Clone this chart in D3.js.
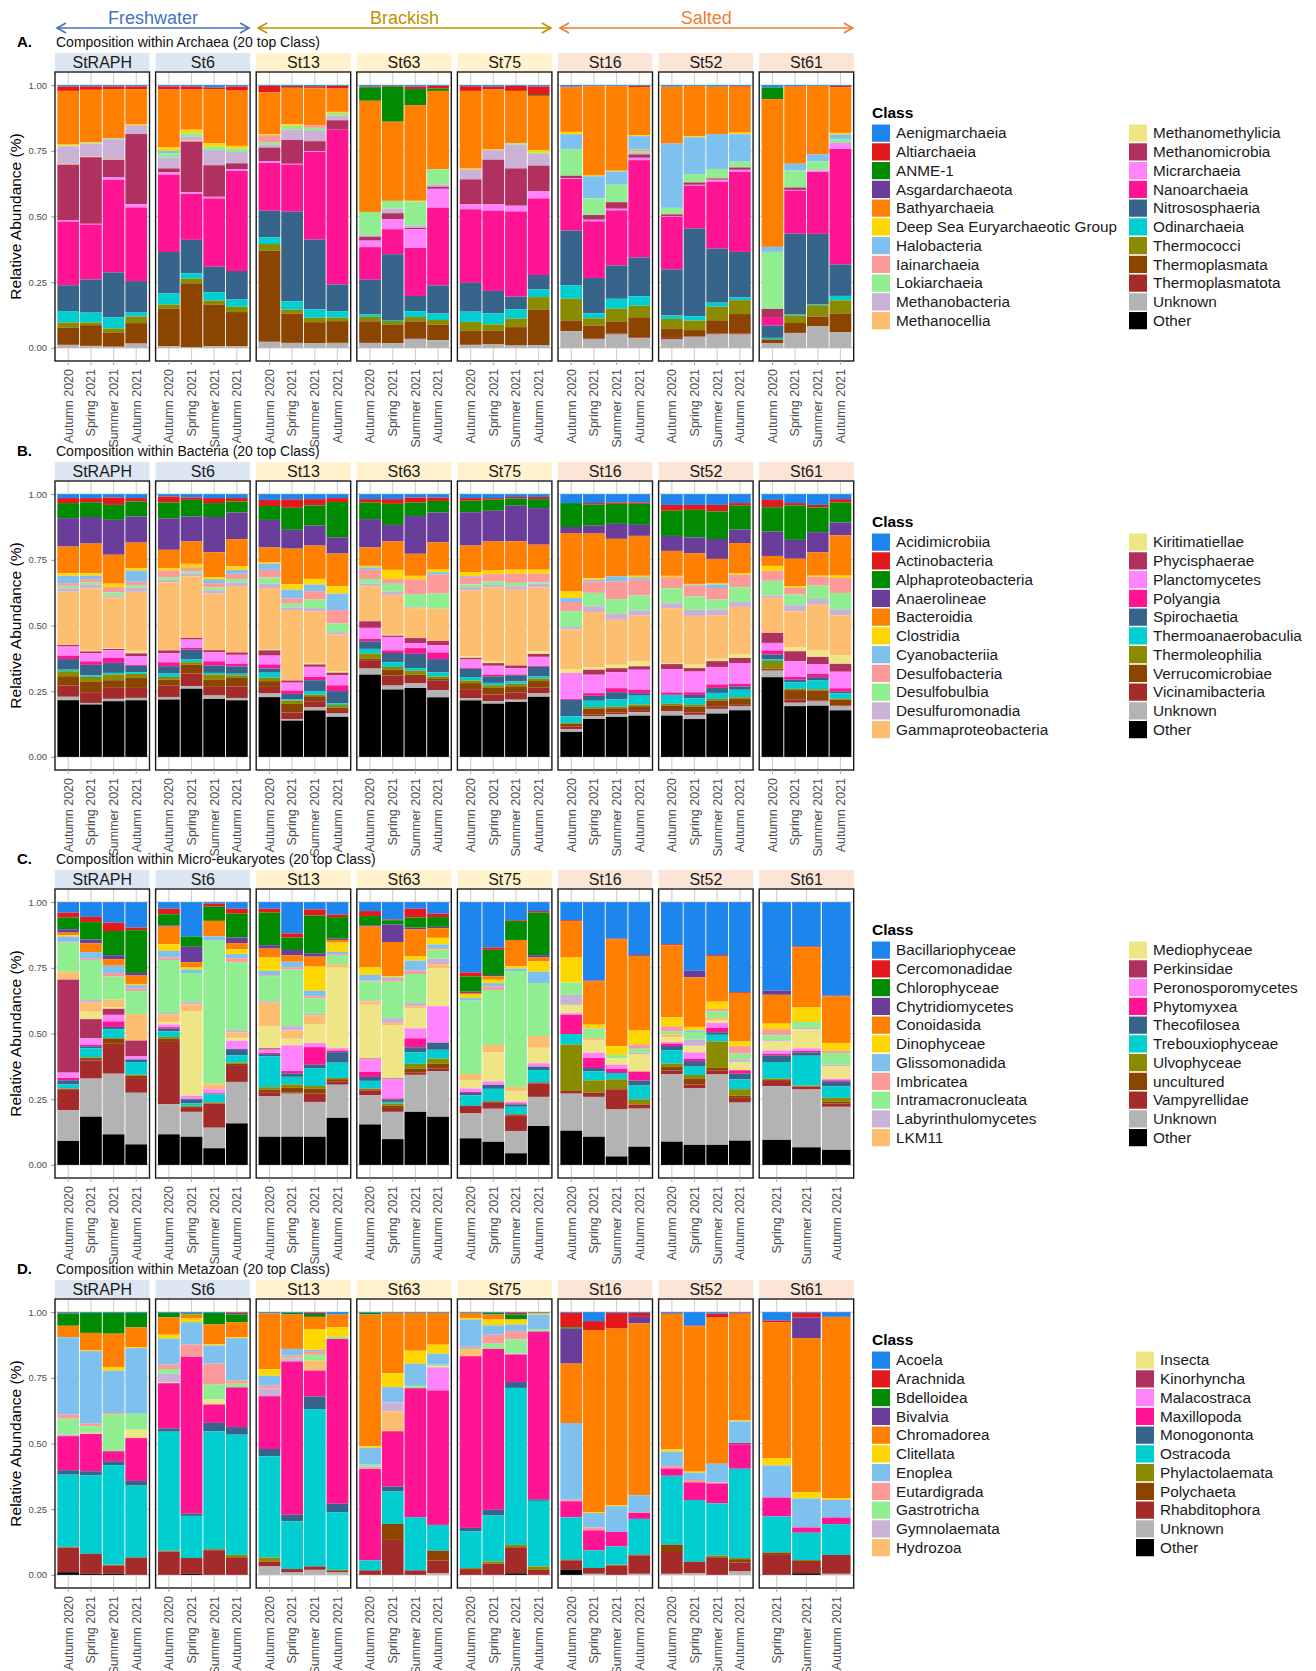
<!DOCTYPE html>
<html>
<head>
<meta charset="utf-8">
<script src="https://cdn.jsdelivr.net/npm/d3@7"></script>
<style>
  body { margin: 0; background: #fff; }
  svg { display: block; font-family: "Liberation Sans", Arial, sans-serif; }
</style>
</head>
<body>
<svg id="chart" width="1316" height="1671"></svg>
<script>
// ---- data (relative abundance in %, read top-of-bar class first) ----
const sites = ["StRAPH", "St6", "St13", "St63", "St75", "St16", "St52", "St61"];
const seasons = ["Autumn 2020", "Spring 2021", "Summer 2021", "Autumn 2021"];
const seasonsSt61Euk = ["Spring 2021", "Summer 2021", "Autumn 2021"];
const regions = ["Freshwater", "Brackish", "Salted"];
const siteRegion = ["Freshwater", "Freshwater", "Brackish", "Brackish", "Brackish", "Salted", "Salted", "Salted"];
const yTicks = [0, 0.25, 0.5, 0.75, 1];

const palette = ["#1C86EE", "#E31A1C", "#008B00", "#6A3D9A", "#FF7F00", "#FFD700", "#7EC0EE",
  "#FB9A99", "#90EE90", "#CAB2D6", "#FDBF6F", "#EEE685", "#B03060", "#FF83FA", "#FF1493",
  "#36648B", "#00CED1", "#8B8B00", "#8B4500", "#A52A2A", "#B3B3B3", "#000000"];

const archaeaClasses = ["Aenigmarchaeia", "Altiarchaeia", "ANME-1", "Asgardarchaeota", "Bathyarchaeia",
  "Deep Sea Euryarchaeotic Group", "Halobacteria", "Iainarchaeia", "Lokiarchaeia", "Methanobacteria",
  "Methanocellia", "Methanomethylicia", "Methanomicrobia", "Micrarchaeia", "Nanoarchaeia",
  "Nitrososphaeria", "Odinarchaeia", "Thermococci", "Thermoplasmata", "Thermoplasmatota", "Unknown", "Other"];
const bacteriaClasses = ["Acidimicrobiia", "Actinobacteria", "Alphaproteobacteria", "Anaerolineae",
  "Bacteroidia", "Clostridia", "Cyanobacteriia", "Desulfobacteria", "Desulfobulbia", "Desulfuromonadia",
  "Gammaproteobacteria", "Kiritimatiellae", "Phycisphaerae", "Planctomycetes", "Polyangia", "Spirochaetia",
  "Thermoanaerobaculia", "Thermoleophilia", "Verrucomicrobiae", "Vicinamibacteria", "Unknown", "Other"];
const eukClasses = ["Bacillariophyceae", "Cercomonadidae", "Chlorophyceae", "Chytridiomycetes", "Conoidasida",
  "Dinophyceae", "Glissomonadida", "Imbricatea", "Intramacronucleata", "Labyrinthulomycetes", "LKM11",
  "Mediophyceae", "Perkinsidae", "Peronosporomycetes", "Phytomyxea", "Thecofilosea", "Trebouxiophyceae",
  "Ulvophyceae", "uncultured", "Vampyrellidae", "Unknown", "Other"];
const metazoanClasses = ["Acoela", "Arachnida", "Bdelloidea", "Bivalvia", "Chromadorea", "Clitellata", "Enoplea",
  "Eutardigrada", "Gastrotricha", "Gymnolaemata", "Hydrozoa", "Insecta", "Kinorhyncha", "Malacostraca",
  "Maxillopoda", "Monogononta", "Ostracoda", "Phylactolaemata", "Polychaeta", "Rhabditophora", "Unknown", "Other"];

const archaeaValues = [
  // StRAPH
  [0.5,1.7,0,0,20.6,0.4,0,0,0.3,6.7,0.3,0,21.2,0.6,24.4,9.9,4.4,1.9,6.6,0.2,1,0],
  [0.5,1.3,0,0,20,0.3,0,0,0.2,5,0.3,0,25.5,0.3,21,12.7,3.8,1,7.9,0.2,0.6,0],
  [0.5,1,0,0,18.8,0,0,0,0.3,7.6,0.3,0,6.7,0.9,35.3,17.2,4.2,1.5,5.3,0.2,0.4,0],
  [0.5,1,0,0,13.3,0.4,0,0,0,3.4,0,0,26.7,1.2,28,12,1.5,2.5,7.6,0.2,1.6,0],
  // St6
  [0.5,1.2,0,0,22,1.3,0.9,0,1.6,4.2,0,0,1.5,0.9,29.4,15.8,4.2,1.5,14.4,0,0.6,0],
  [0.5,1.2,0,0,15.2,1.3,0,0,1.2,1.6,0.4,0,19.3,0.6,17.4,12.7,2,1.8,24.3,0,0.2,0],
  [0.9,0.6,0,0,20.6,1.3,0,0,1.4,5.7,0,0,12,0.6,26,9.7,3.2,1.5,15.9,0,0.6,0],
  [0.5,1.6,0,0,21,1,0,0,1.3,4.3,0,0,2.3,0.6,38,10.8,2.8,2,13,0,0.6,0],
  // St13
  [0.3,2.5,0,0,15.9,0.4,0,2.8,0.9,1,0,0,5.3,0.6,18.2,10.2,2.5,2.5,34.7,0.2,2.2,0],
  [0.3,0.6,0.2,0,13.9,0.6,0,0,1.4,4,0,0,9.1,0.3,18,34.3,3.2,1.5,11.2,0,1.9,0],
  [0.4,0.6,0.2,0,14.2,0,0,0.9,0.9,4.2,0,0,3.8,0.3,33.4,26.7,3.2,1.7,8.1,0,1.7,0],
  [0.3,1,0,0,8.9,0.4,0,0,1,1.8,0,0,3.6,0,59,10.2,2.5,1.3,8.3,0,1.9,0],
  // St63
  [0.5,0.3,5.2,0,42.6,0,0,0,8.9,0.6,0,0,1.5,2.5,12.5,13.3,0.9,1.7,8.3,0,1.9,0],
  [0.3,0.3,13.3,0,30.1,0,0,0,2.9,1.8,0,0,2.3,3.8,9.5,25,0.4,1.3,7.2,0,1.7,0],
  [0.6,0.9,6.1,0,36.5,0.3,0,0,9.1,1,0,0,0.5,7.1,18.3,5.8,2.2,1.7,6.4,0.3,3.4,0],
  [0.3,1,0.9,0,29.9,0,0,0,5.7,0.9,0,0,0.8,7.2,29.6,10.7,2.5,1.7,6,0,2.9,0],
  // St75
  [0.4,1.8,0,0,29.6,0.3,0,0,0,3.8,0,0,9.5,1.9,28,11,3.9,3.4,5.3,0.2,1,0],
  [0.6,0.9,0,0,22.9,0.3,0,0,0,3.6,0,0,16.8,2.5,30.5,8.5,4.2,2.3,5.3,0,1.3,0],
  [0.3,1.9,0,0,19.9,0,0,0,0.6,9,0,0,14.2,2.2,32.4,4.8,3.6,3.2,7,0,0.9,0],
  [0.5,3.3,0.3,0,20.7,0.9,0,0,0.5,4.4,0,0,9.8,2.7,29.1,5.5,2.9,4.7,13.6,0,1,0],
  // St16
  [0.6,0.3,0,0,17,0.9,5.7,0,10.2,0,0,0,0.9,0.3,19.8,21,5.1,8.3,4.1,0,6.4,0],
  [0.3,0.2,0,0,34,0.3,8.4,0,6.4,0,0,0,1.8,0.6,21.6,13.5,1.9,2.8,4.8,0.3,3.4,0],
  [0.3,0.2,0,0,32.1,0.3,5,0,6.7,0,0,0,2.5,0.6,21,12.7,3.8,4.8,4.7,0.3,5.1,0],
  [0.3,0.4,0,0,18.4,0.4,5.1,0.6,0.7,0.6,0,0,1.3,0.9,37.2,14.9,3.6,4.4,7.6,0.3,3.8,0],
  // St52
  [0.6,0,0,0,21.6,0,24.4,0,2.5,0,0,0,0.6,0.3,20,17.5,1.3,3.8,3.4,0.6,3.2,0],
  [0.3,0,0,0,19.3,0.3,14.1,0,3.2,0,0,0,0.9,0.3,16.4,33.5,1.7,3.6,2.4,0.2,4.2,0],
  [0.6,0,0,0,18,0,13.3,0,3.6,0,0,0,0.5,0.8,25.4,20.6,1.5,5.2,5.1,0.3,5.1,0],
  [0.3,0.3,0,0,17.5,0.6,10.5,0,2.2,0,0,0,0.9,0.8,30.5,17.4,1,5.3,7.4,0.4,5.1,0],
  // St61
  [0.9,0,4.4,0,56.2,0,1.9,0,21.7,0,0,0,3.4,0,2.9,4.7,0.6,0,1.5,0,1.7,0],
  [0.4,0.2,0,0,29.4,0,2.5,0,6.6,0,0,0,0.9,0.3,16.4,30.9,0.3,2.9,3.8,0,5.7,0],
  [0.3,0,0,0,26,0,2.7,0,3.4,0,0,0,0,0.6,23.5,26.7,0.4,4.3,3.6,0,8.3,0],
  [0.3,0.5,0,0,17.4,0.6,1.9,0,1.3,0,0,0,0,2.3,44,12,1.7,5,7.1,0,6,0]
];

const bacteriaValues = [
  // StRAPH
  [1.5,1.9,5.7,10.8,10.1,1,2.8,1,0.9,1.3,19.9,0.3,0.6,3.5,1.3,4,0.6,1.9,3.5,4.3,1.3,21.5],
  [1.5,1.6,5.6,10.1,11.2,1,1.3,1.3,0.9,1.3,23.7,0.3,0.6,3.2,1.3,4,0.6,1.9,3.9,4.1,0.6,19.9],
  [1.3,2.8,5.7,13.3,11,1.3,0,2,1.3,0.6,19.4,0.3,0.5,2.9,1.9,3.8,0.6,2.2,2.9,4.2,0.9,21.2],
  [1.5,1.3,5.7,9.9,9.8,0.9,4.2,1.3,0.9,1.6,22.4,1,1,3.4,0.3,2.5,0.6,1.5,3.8,3.8,0.9,21.5],
  // St6
  [0.9,2.3,6,12,7,0.9,0,2.5,1,1,25.9,0,1,3.5,1.5,2.8,1.3,1,2.3,4.3,1,21.8],
  [1.3,0.9,6.3,9.5,8.5,1.3,0,1.6,0.9,1,23.4,0,0.6,3.2,0.6,3.8,1,0.9,3.4,4.8,1,25.9],
  [1.5,1.9,5.3,13.4,9.4,0.8,1.5,1.6,1.1,1.3,21.5,0,0.8,3.4,1.6,2.8,0.6,1.9,2.8,3.3,1.3,22],
  [1.5,1.3,4.2,10.1,10.4,1.3,1.5,2,1.3,1.3,25.3,0,0.9,3.4,1,2.8,0.6,1,3.2,4.4,0.9,21.5],
  // St13
  [2.2,2.3,5.3,10.5,5.7,0.5,2.3,2.9,2.4,1.6,23.2,0.5,2,3.4,1.5,1.6,1.9,1.3,2.2,2.5,1.4,22.7],
  [2,3.2,8.4,7.2,13.6,2,3.4,1.9,1.5,1,26.9,0,0.8,3,1.3,2,0.5,1.3,3.3,2.5,0.6,13.8],
  [1.9,2.4,7.7,7.6,12.7,2.2,2.5,3.2,3.2,1.3,19.6,0.6,0.9,3.8,1.3,4.2,1.3,0.6,1.9,2.2,1.3,17.7],
  [1.5,1.5,13.4,6.2,12.4,2.8,6.3,5.1,3.3,0.9,13.9,0.6,1,3.8,2.2,4.7,0.6,1,0.9,1.3,1.3,15.2],
  // St63
  [1.9,1.3,6.3,10.8,7,0.6,0.9,3.5,1.8,1,13.3,0,2.5,4.2,0.9,2.9,1.8,1.9,0.6,3.2,2.3,31.3],
  [1.9,1.8,8,6.3,10.8,3.5,0,1.8,2.9,1.3,15.2,0.3,0.5,5.1,1,3.5,1.8,1,2.2,3.9,1.5,25.6],
  [1.3,1.9,5.1,14.4,8.4,1.3,0,5.6,5.1,0.3,11.4,0,1.9,1.9,2.2,5.4,1,1.5,0.9,2.3,1.9,26.2],
  [1.3,1.3,4.4,11.4,10.4,1,0.9,7.2,5.8,0,12.3,0,1.6,2.8,2.5,5.1,1.6,0.9,0.5,3.8,2.7,22.7],
  // St75
  [1.5,1,4.4,12.7,10.1,1.5,0.3,2.9,1,1.3,25.2,0.5,0.6,3.2,0.3,3.2,1.3,1,2.3,3.4,0.9,21.5],
  [1.5,0.6,4.2,11.7,11,1.4,0,2.8,1.3,1,28.1,0.6,1,3.4,0.6,2.5,0.9,1,2.5,2.5,1,20.2],
  [1.1,0.6,2.7,13.6,10.8,1.5,0,3.5,1.3,1.3,28.9,0,1,2.4,0.3,2.3,0.9,1,2.3,2.8,0.9,20.9],
  [1.1,0.8,3.4,13.9,9.5,1.5,0,3.3,0.5,1.4,24.3,1,1.1,3.5,0.3,3.7,0.8,0.9,2.5,2.2,1.3,22.8],
  // St16
  [3.4,0,9.1,2.3,22.2,2.5,1.5,3.5,6,1,15,1.5,0,9.9,0.3,6.3,2.5,0.3,1,1,1.1,9.5],
  [3.4,0.6,8,3,16.9,0.6,0.6,4.4,5.1,2.2,20.9,1,1.9,7,1,1.9,2.4,0.6,2.3,0.6,1,14.4],
  [3.2,0.5,7.6,5.7,14.3,0,1.9,6.7,5.6,2.3,17.1,1.3,1.5,6.1,1.5,2.7,2.8,0.6,1.6,0.6,1.1,15.2],
  [3.2,0.5,8,4.2,15.2,0.6,0.9,6,5.7,2,17.4,1.9,1.3,7.6,1.3,1,3.4,0.6,1.5,0.8,1.3,15.7],
  // St52
  [4.1,2.2,9.6,5.7,9.5,0.5,0,4.2,5.7,1.9,20.9,0.4,1.9,8.9,0.9,0,3.4,0.6,1.4,0.9,1.6,15.7],
  [4.1,1.9,10.5,6,11.7,0.3,0.4,4.1,5.1,2.3,18.6,1.3,1.3,7.9,1,1.3,2.5,0.6,2.3,0.9,1.6,14.4],
  [4.1,2.5,10.5,7.6,9.4,0.4,1.3,4.4,3.8,2.2,16.6,0.9,2.2,6.7,1.3,1.9,2.3,0.6,2.2,1,1.8,16.5],
  [3.4,1,9.1,5.1,11.4,0.6,0,4.8,5.6,1.9,17.9,1.5,1.9,8,0.9,1.3,2.8,0.6,2.3,0.6,1.5,17.7],
  // St61
  [2.2,2.8,9.3,9.3,3.8,1.9,0,3.8,5.6,0.9,13.4,0,3.8,2.9,1.5,1.9,0.6,2.9,0.5,0.3,2.5,30.4],
  [3.4,0.9,13.1,7.2,10.5,0.6,0,2.5,4.1,2.3,13.6,1.6,3.8,6,1,1,2.5,0.5,3.5,1.3,1.3,19.3],
  [4.1,1,9.4,7.7,8.9,0.4,0,3.4,5.1,2.2,17.5,2.4,2.7,3.7,1.3,1.3,3.3,0.5,3.8,0.4,1.6,19.5],
  [1.9,1.3,7.6,4.9,15.3,0.9,0,5.7,6.3,2.2,15.3,3.2,3,6.3,1.3,0.6,2,0.4,2.2,0.4,1.5,17.7]
];

const eukValues = [
  // StRAPH
  [4,1.9,4.4,1.3,1,0.5,2,0.3,11.1,0,3,0,35.4,2,0.9,1.6,1.5,0.3,0,8,11.7,9.1],
  [5.6,2,6.6,1.5,3.3,0,2.5,0.5,15.2,1,3.5,2.8,7.3,2.5,0.5,0.8,3.4,0.3,0.9,6.9,14.5,18.3],
  [7.8,3.2,9.2,1.5,2.5,0,2.8,1.3,8.8,0,2.9,0.6,2.3,2.5,2.1,0.9,3.3,0.3,1.9,11.4,23.1,11.6],
  [9.7,1,16.3,1,3.2,0.5,1.3,0.9,8.8,0,10.1,0,5.9,1.3,0,1,4.8,0.3,1,5.6,19.7,7.8],
  // St6
  [2.5,2.1,4.2,0.5,6.7,2.5,2.5,1,20.1,0.6,2.9,0.9,0,1,0.6,1,2.1,0.6,1.3,23.7,11.4,11.6],
  [13.1,0,3.9,5.9,1.9,0.9,1.3,0,11.1,0.9,2.7,32.1,0,1.3,0,1.6,0.9,0.4,0.4,1.5,9.5,10.7],
  [0.6,1.1,5.4,0,5.9,0,1.6,0,54.3,0,2.1,0,0,1.6,0,0.4,3,0.4,0,9.2,7.8,6.3],
  [2.5,1.9,9.1,2.1,2.3,1.9,1.6,1.5,25.9,0.9,2,1.1,0,3.2,0,2.3,2.8,0.5,0.8,6.1,15.8,15.8],
  // St13
  [2.5,1.5,12.4,1.3,3.4,5.1,1.6,0.4,9.5,0.6,9.1,8.3,0.5,1.3,0.4,0.9,11.7,0.9,1,1.6,15.4,10.7],
  [11.9,1.6,4.7,2,2.5,0,2.1,0.9,21.5,1.6,3.2,2.5,0,9.8,0.9,1.3,2.9,1.3,1.8,0.4,16.4,10.7],
  [2.8,2.3,14.4,1.3,3.8,9.2,2.1,0.8,5.9,0.5,3.4,7.2,0,1.6,6.7,1.3,6.8,1,1.9,3.2,13.3,10.7],
  [4.7,1,8.2,0.5,1,3.5,0.9,0.6,3.2,0,1.3,30.7,0,0.9,0.6,4,5.8,0.5,0.8,1.3,12.6,17.9],
  // St63
  [3.4,1.9,3.5,0.5,15.5,2.9,2.1,0.4,7.2,0.4,1.3,20.5,0.3,4.8,1.9,1.5,2.9,0.3,0.4,1.9,11.1,15.4],
  [6.6,0.3,1.6,6.7,13.1,0.4,0.6,1,13.9,1.8,1,20.2,0.3,7.3,0.4,0.9,0.6,0.9,0.8,1.5,10.4,9.8],
  [2.5,3.4,3.8,0.6,10.4,1.6,3.8,1.3,11,1.3,0.8,7.6,0,3.8,3.4,1.9,4.4,1.9,1.5,0.8,14.1,20.2],
  [4.4,1.3,3.7,0.5,3.7,2.5,1.3,0.6,3.5,2.1,1.5,14.5,0,13.9,0,2.7,3.4,1.9,1.9,0.9,17.4,18.3],
  // St75
  [26.8,1.5,5.8,0.5,0.6,1.3,1,0,28,0,2.3,3.2,0,1.3,0.4,0.9,4,0,0,2.9,9.5,10.1],
  [17.3,0.9,9.6,0.5,1.3,1.3,1.3,1.3,21,0,2.8,11.1,0,1.3,0,1.5,4.8,0,0.5,2.3,12.6,8.8],
  [6.9,0.3,7.2,0,10.1,0.8,0.9,0,44.2,0,1.6,4,0,0.6,0.4,0.9,2.9,0,0.5,5.8,8.5,4.4],
  [3.4,0.6,16.2,0.9,1.5,3.9,4.3,0,20.2,0,4.5,5.9,0,1.3,0,1.3,4.7,0,0.4,5.1,11.1,14.8],
  // St16
  [6.9,0.3,0,0,13.9,9.5,0,0,4.7,3.8,0,3.2,0,0.6,7.3,0,4,17.7,0,1,14.1,13],
  [29.9,0.3,0,0,16.5,1.5,0.4,0,3.2,0,0.9,4.7,0,2,3.8,1.3,3.4,4.7,0,1.6,15.2,10.7],
  [13.9,0.3,0,0,40.7,3.3,0,0,1.3,0,0,2.5,0,1.5,1.6,0,2.4,3.8,0,7.7,17.9,3.2],
  [20.2,0.3,0,0,28.4,5.3,0,1.6,1.5,0.5,0,6.7,0,0,3.4,1.9,5.3,2,0,1.5,14.5,6.9],
  // St52
  [16,0.4,0,0,27.4,3.4,0,2,1.1,0,1,1.9,0,0.6,0.9,1.6,5.1,1.3,1.3,1.5,25.6,8.8],
  [26.1,0,0,2.5,18.9,1.3,0.6,0,2.9,2.4,0,2.5,0,2.5,0.8,2.1,3.2,1.3,2.3,1.5,21.5,7.6],
  [20.2,0.3,0,0,17.4,2.8,0,0.9,2.5,0,1,0.9,0,1.9,1.6,1,2.5,10.1,0.9,1.6,26.8,7.6],
  [34.3,0.3,0,0,18.4,1.8,0,2.9,2.1,1,0,3.2,0,0,1.3,2.1,3.8,2.5,0.8,1.8,14.5,9.2],
  // St61 (no Autumn 2020)
  [33.7,0,0,1.6,11,2.1,0,2.3,1.9,0.5,0,3.4,0,1.3,0.6,2.5,6.3,0.6,0,2.3,20.5,9.5],
  [16.9,0.3,0,0,22.9,5.7,0,0,2.3,0.5,0,7.3,0,0.9,0.6,1.3,11.4,0.4,0,1.1,22.1,6.7],
  [35.6,0.3,0,0,17.7,2.9,0,0.9,4.5,0.6,0,4.7,0,0.6,0.4,1.9,4.4,1.5,0.6,1.3,16.4,5.7]
];

const metazoanValues = [
  // StRAPH
  [0.3,0.2,4.7,0,4.4,0,29.6,1.5,6.1,0.6,0,0,0,0,13,1.7,27.6,0.3,0,9.4,0,1],
  [0.3,0,7.6,0,6.6,0.3,27.6,1,2.5,0,0,0.4,0,0,14.2,1.5,29.9,0,0,7.6,0,0.4],
  [0.3,0,7.9,0,12.7,1.4,16.1,0.6,14,0,0,0,0,0,3.8,1.5,37.9,0.3,0,3.2,0,0.4],
  [0.3,0,5.5,0,7.5,0.4,25,0,6.1,0,0,3.2,0,0,16.3,1.8,27.4,0,0,6.6,0,0],
  // St6
  [0.3,0,1.7,0,6.6,1.5,9.9,1.7,1.8,3.3,0,0.3,0,0,17.2,1.3,45.4,0.3,0,8.9,0,0],
  [0.5,0,0.4,0,1.5,1.4,8.5,4.7,0,0,0,0,0,0,59.5,0.9,16,0,0,6,0,0.4],
  [0.3,0,4.4,0,7.6,0.4,6.9,8,5.7,0,0,1.9,0,0,7,3.2,44.9,0.4,0,9.4,0,0],
  [0.3,0.6,2.9,0,5.7,0.4,16,1.3,1.4,0,0,0,0,0,15.1,2.9,45.7,0.9,0,6.7,0,0],
  // St13
  [0.4,0,0,0,21.3,2.5,3.8,1.1,0,2.9,0,0,0,0,20.1,2.8,38.5,1.5,0,1.9,3.2,0],
  [0.3,0,0.6,0,13.1,0,2.5,0.9,0.4,1,0,0,0,0,58.4,2.5,18.2,0,0,1.3,0.9,0],
  [0.3,0.4,1.1,0,4.6,7.9,0.5,1.4,2.2,0,3.8,0,0,0,9.8,4.8,59.7,0,0,1.3,1.9,0],
  [0.9,0,0,0,4.8,3.7,0,0,0.8,0,0,0,0,0,62.8,3.2,22,0.4,0,0.6,0.9,0],
  // St63
  [0.3,0,0.6,0,50.2,0.6,6.4,0,0.7,0.6,0.3,0,0,0,34.9,0,3.8,0,0,1.7,0,0],
  [0.3,0,0,0,22.9,5.3,5.8,0,0,3.4,7.6,0,0,0,21,1.9,12.3,0,6.1,13.3,0,0],
  [0.3,0,0,0,14.4,5,8.4,0,0.9,0,0,0,0,0,49.2,0,20.3,0,0,1.7,0,0],
  [0.3,0,0,0,12.1,3.4,4.2,0,0.6,0,0,0.4,0,8.8,51.2,0,9.8,0,3.8,4.8,0.6,0],
  // St75
  [0.3,0,0,0,1.9,0.6,10.4,0.8,0.5,0,2.3,0,0,0,65.4,1.3,14,0.4,0,2.2,0,0],
  [0.3,0,0.6,0,1.9,2.2,3.6,3.4,2,0,0,0,0,0,61.2,2.2,17.5,0.9,0,4.2,0,0],
  [0.3,0.6,1.9,0,0,1.9,2.5,3.2,5.3,0.4,0,0,0,0,10.5,2.2,59.7,0.9,0,9.9,0,0.6],
  [0.3,0,0,0,0.3,0.4,5.5,0,0.9,0,0,0,0,0,63.9,0.6,25,1.3,0,1.9,0,0],
  // St16
  [0.3,5.5,0.5,13.3,22.6,0,29.2,0.6,0,0,0,0,0,0,6.1,0,16.1,0,0.3,3.6,0,1.9],
  [3.4,3.4,0,0,69.2,0.3,5.5,1.1,0,0,0,0,0,0,7.6,0,6.7,0,0,2.2,0.4,0],
  [0.3,6,0,0,67.5,0.3,9.8,0,0,0,0,0,0,0,5.5,0,7,0.3,0,3.6,0,0],
  [0.3,1.5,0,2.5,65.4,0,6.4,0.3,0,0,0,0,0,0,2.3,0,13.6,0,0.4,6.9,0.4,0],
  // St52
  [0.5,0.2,0,0,51.5,0.9,5.5,0.9,0,0,0,0,0,0,2.7,0.4,25.9,0,2.8,8.3,0.4,0],
  [5.1,0.3,0,0,55.3,0.4,2.8,0.9,0,0,0,0,0,0,6.7,0,23.5,0,0,4.4,0.6,0],
  [0.6,1.5,0,0,55.5,0,7.1,0.4,0,0,0,0,0,0,7.5,0,19.9,0.6,0,6.7,0,0],
  [0.3,0.3,0,0,40.7,0.4,8.3,0,0,0,0,0,0.4,0,9.4,0,34.1,0.4,1.3,3.4,1.3,0],
  // St61 (no Autumn 2020)
  [3.2,0.6,0,0,51.7,2.8,12.2,0,0,0,0,0,0,0,7.2,0,13.7,0,0.9,7.6,0,0],
  [0.3,1.8,0,7.8,59,2.3,11.1,0,0,0,0,0,0,0,2,0,10.4,0.4,0,4.7,0,0.6],
  [1.8,0,0,0,69,0.6,6.7,0,0,0,0,0,0,0,2.5,0,11.7,0,0,7.2,0.4,0]
];

// ---- layout ----
const regionColor = { Freshwater: "#4472C4", Brackish: "#BF9000", Salted: "#ED7D31" };
const stripFill = { Freshwater: "#DCE6F2", Brackish: "#FFF2CC", Salted: "#FBE5D6" };
const facetX0 = 55, facetStep = 100.6, facetW = 94.5;
const panelH = 289;
const legendCol1 = 872;

const panels = [
  { letter: "A.", title: "Composition within Archaea (20 top Class)", classes: archaeaClasses,
    values: archaeaValues, top: 72, st61Seasons: seasons, legendCol2: 1129 },
  { letter: "B.", title: "Composition within Bacteria (20 top Class)", classes: bacteriaClasses,
    values: bacteriaValues, top: 481, st61Seasons: seasons, legendCol2: 1129 },
  { letter: "C.", title: "Composition within Micro-eukaryotes (20 top Class)", classes: eukClasses,
    values: eukValues, top: 889, st61Seasons: seasonsSt61Euk, legendCol2: 1129 },
  { letter: "D.", title: "Composition within Metazoan (20 top Class)", classes: metazoanClasses,
    values: metazoanValues, top: 1299, st61Seasons: seasonsSt61Euk, legendCol2: 1136 }
];

const svg = d3.select("#chart");
const facetX = (j) => facetX0 + j * facetStep;

// habitat arrows across the top
regions.forEach((r) => {
  const idx = siteRegion.map((s, j) => (s === r ? j : -1)).filter((j) => j >= 0);
  const x0 = facetX(idx[0]) + 2;
  const x1 = facetX(idx[idx.length - 1]) + facetW - 1;
  const g = svg.append("g").attr("stroke", regionColor[r]).attr("fill", "none").attr("stroke-width", 1.6);
  g.append("line").attr("x1", x0).attr("x2", x1).attr("y1", 28).attr("y2", 28);
  g.append("path").attr("d", `M${x0 + 9},23L${x0},28L${x0 + 9},33`);
  g.append("path").attr("d", `M${x1 - 9},23L${x1},28L${x1 - 9},33`);
  svg.append("text")
    .attr("x", (x0 + x1) / 2)
    .attr("y", 24)
    .attr("text-anchor", "middle")
    .attr("font-size", 18)
    .attr("fill", regionColor[r])
    .text(r);
});

function drawPanel(p) {
  const top = p.top;
  const y = d3.scaleLinear().domain([-0.05, 1.05]).range([top + panelH, top]);
  const color = d3.scaleOrdinal().domain(p.classes).range(palette);

  svg.append("text").attr("x", 17).attr("y", top - 25)
    .attr("font-size", 15).attr("font-weight", "bold").text(p.letter);
  svg.append("text").attr("x", 56).attr("y", top - 25)
    .attr("font-size", 14).attr("fill", "#111").text(p.title);

  // y axis
  const yAxis = svg.append("g")
    .attr("transform", `translate(${facetX0},0)`)
    .call(d3.axisLeft(y).tickValues(yTicks).tickFormat(d3.format(".2f")).tickSize(4).tickPadding(4));
  yAxis.select(".domain").remove();
  yAxis.selectAll("line").attr("stroke", "#999");
  yAxis.selectAll("text").attr("font-size", 9.5).attr("fill", "#4d4d4d")
    .attr("font-family", "Liberation Sans, Arial, sans-serif");

  svg.append("text")
    .attr("transform", `translate(16,${top + panelH / 2}) rotate(-90)`)
    .attr("text-anchor", "middle")
    .attr("dy", "0.35em")
    .attr("font-size", 15.5)
    .text("Relative Abundance (%)");

  const stack = d3.stack().keys(p.classes).order(d3.stackOrderReverse);
  let row = 0;

  sites.forEach((site, j) => {
    const fx = facetX(j);
    const facetSeasons = site === "St61" ? p.st61Seasons : seasons;
    const x = d3.scaleBand().domain(facetSeasons).range([fx, fx + facetW])
      .paddingInner(0.04).paddingOuter(0.105);

    // strip
    svg.append("rect").attr("x", fx).attr("y", top - 19).attr("width", facetW).attr("height", 18)
      .attr("fill", stripFill[siteRegion[j]]);
    svg.append("text").attr("x", fx + facetW / 2).attr("y", top - 10).attr("dy", "0.35em")
      .attr("text-anchor", "middle").attr("font-size", 16).attr("fill", "#1a1a1a").text(site);

    // grid
    const g = svg.append("g");
    g.selectAll(".hgrid").data(yTicks).enter().append("line")
      .attr("x1", fx).attr("x2", fx + facetW)
      .attr("y1", (d) => y(d)).attr("y2", (d) => y(d))
      .attr("stroke", "#cfcfcf").attr("stroke-width", 1.1);
    g.selectAll(".vgrid").data(facetSeasons).enter().append("line")
      .attr("x1", (d) => x(d) + x.bandwidth() / 2).attr("x2", (d) => x(d) + x.bandwidth() / 2)
      .attr("y1", top).attr("y2", top + panelH)
      .attr("stroke", "#cfcfcf").attr("stroke-width", 1.1);

    // bars
    const rows = facetSeasons.map((season) => {
      const vals = p.values[row++];
      const total = d3.sum(vals);
      const obj = { season };
      p.classes.forEach((c, i) => { obj[c] = vals[i] / total; });
      return obj;
    });
    const series = stack(rows);
    g.selectAll(".layer").data(series).enter().append("g")
      .attr("fill", (d) => color(d.key))
      .selectAll("rect").data((d) => d).enter().append("rect")
      .attr("x", (d) => x(d.data.season))
      .attr("width", x.bandwidth())
      .attr("y", (d) => y(d[1]))
      .attr("height", (d) => Math.max(0, y(d[0]) - y(d[1])));

    // border
    svg.append("rect").attr("x", fx).attr("y", top).attr("width", facetW).attr("height", panelH)
      .attr("fill", "none").attr("stroke", "#1a1a1a").attr("stroke-width", 1.4);

    // x axis
    const xAxis = svg.append("g")
      .attr("transform", `translate(0,${top + panelH})`)
      .call(d3.axisBottom(x).tickSize(4).tickPadding(4));
    xAxis.select(".domain").remove();
    xAxis.selectAll("line").attr("stroke", "#aaa");
    xAxis.selectAll("text")
      .attr("font-size", 12.5).attr("fill", "#4d4d4d")
      .attr("font-family", "Liberation Sans, Arial, sans-serif")
      .attr("transform", "rotate(-90)")
      .attr("text-anchor", "end")
      .attr("x", -8).attr("y", 0).attr("dy", "0.35em");
  });

  // legend
  const y1 = y(1);
  svg.append("text").attr("x", legendCol1).attr("y", y1 + 33)
    .attr("font-size", 15.5).attr("font-weight", "bold").text("Class");
  const items = svg.append("g").selectAll("g").data(p.classes).enter().append("g")
    .attr("transform", (d, i) => {
      const cx = i < 11 ? legendCol1 : p.legendCol2;
      return `translate(${cx},${y1 + 48 + (i % 11) * 18.75})`;
    });
  items.append("rect").attr("x", 0).attr("y", -8.6).attr("width", 18).attr("height", 17.2)
    .attr("fill", (d) => color(d));
  items.append("text").attr("x", 24).attr("y", 0).attr("dy", "0.35em")
    .attr("font-size", 15.3).attr("fill", "#1a1a1a").text((d) => d);
}

panels.forEach(drawPanel);
</script>
</body>
</html>
